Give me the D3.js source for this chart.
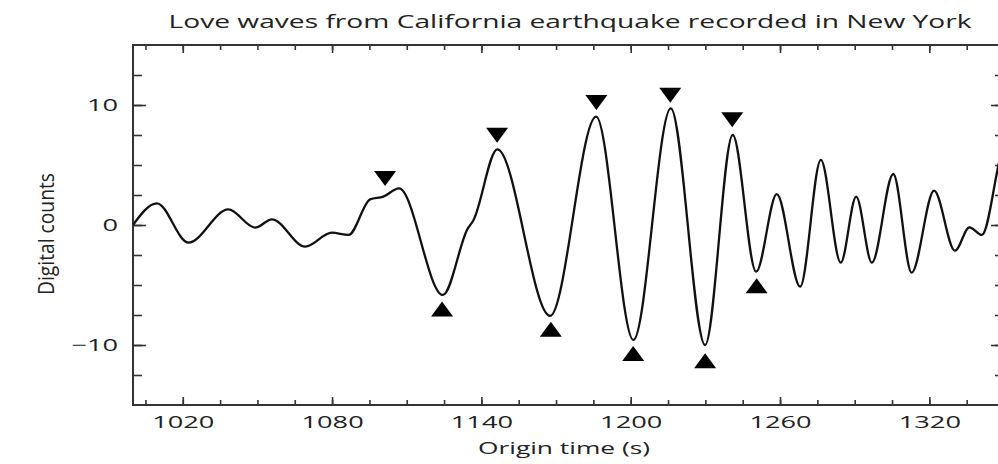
<!DOCTYPE html>
<html>
<head>
<meta charset="utf-8">
<script src="https://cdn.jsdelivr.net/npm/d3@7"></script>
<style>
    body { margin: 0; background: #fff; }
    text { font-family: "Open Sans", sans-serif; fill: #222; }
</style>
</head>
<body>
<svg id="chart" width="998" height="464"></svg>
<script>
// seismogram (time in s, digital counts)
var times = [1000, 1009.6, 1022.3, 1038.3, 1049.1, 1055.8, 1069.2, 1079.9, 1086.6, 1095.3,
    1100.6, 1106.9, 1124.5, 1134.5, 1136.8, 1146.4, 1167.6, 1186.1, 1201.1,
    1216.1, 1229.9, 1241.0, 1250.4, 1258.7, 1268.1, 1276.4, 1284.4, 1290.6, 1296.9,
    1305.5, 1312.9, 1321.9, 1330.3, 1336.1, 1341.1, 1348, 1350];
var counts = [0, 1.8, -1.47, 1.3, -0.22, 0.47, -1.8, -0.64, -0.83, 2.14,
    2.36, 3.05, -5.83, -0.3, 0.4, 6.3, -7.58, 9.03, -9.58,
    9.72, -10.0, 7.5, -3.89, 2.58, -5.14, 5.42, -3.14, 2.36, -3.14,
    4.25, -3.97, 2.86, -2.14, -0.19, -0.83, 5.2, 7];

// picked peaks (down triangles) and troughs (up triangles)
var peakTimes = [1101.3, 1146.3, 1186.2, 1215.9, 1240.8];
var peakValues = [2.67, 6.28, 9.0, 9.6, 7.56];
var troughTimes = [1124.2, 1167.9, 1201.0, 1229.9, 1250.6];
var troughValues = [-5.8, -7.47, -9.5, -10.1, -3.86];

var xMinorTicks = d3.range(1005, 1351, 15);
var xLabelTicks = [1020, 1080, 1140, 1200, 1260, 1320];
var yMinorTicks = [-12.5, -10, -7.5, -5, -2.5, 0, 2.5, 5, 7.5, 10, 12.5];
var yLabelTicks = [-10, 0, 10];

var SX = 1.6; // the source figure is stretched sideways

var svg = d3.select('#chart');
var pLeft = 133, pRight = 1004, pTop = 45, pBottom = 405;

var x = d3.scaleLinear().domain([1000, 1350]).range([pLeft, pRight]);
var y = d3.scaleLinear().domain([-15, 15]).range([pBottom, pTop]);

svg.append('defs').append('clipPath').attr('id', 'plot')
    .append('rect')
    .attr('x', pLeft).attr('y', pTop)
    .attr('width', pRight - pLeft).attr('height', pBottom - pTop);

// axes on all four sides, ticks pointing inward
function drawAxis(axis, tx, ty, labels) {
    var g = svg.append('g')
        .attr('transform', 'translate(' + tx + ',' + ty + ')')
        .call(axis);
    g.select('.domain').remove();
    g.selectAll('line').attr('stroke', '#333').attr('stroke-width', 1.6);
    if (!labels) g.selectAll('text').remove();
    return g;
}

var fmt = function (d) { return d < 0 ? '\u2212' + Math.abs(d) : String(d); };

drawAxis(d3.axisBottom(x).tickValues(xMinorTicks).tickSize(-5).tickFormat(''), 0, pBottom, false);
drawAxis(d3.axisTop(x).tickValues(xMinorTicks).tickSize(-5).tickFormat(''), 0, pTop, false);
drawAxis(d3.axisLeft(y).tickValues(yMinorTicks).tickSize(-9).tickFormat(''), pLeft, 0, false);
drawAxis(d3.axisRight(y).tickValues(yMinorTicks).tickSize(-9).tickFormat(''), pRight, 0, false);

var xb = drawAxis(d3.axisBottom(x).tickValues(xLabelTicks).tickSize(-8).tickPadding(11).tickFormat(fmt), 0, pBottom, true);
drawAxis(d3.axisTop(x).tickValues(xLabelTicks).tickSize(-8).tickFormat(''), 0, pTop, false);
var yl = drawAxis(d3.axisLeft(y).tickValues(yLabelTicks).tickSize(-13).tickPadding(15).tickFormat(fmt), pLeft, 0, true);
drawAxis(d3.axisRight(y).tickValues(yLabelTicks).tickSize(-13).tickFormat(''), pRight, 0, false);

[xb, yl].forEach(function (g) {
    g.selectAll('text')
        .attr('font-size', 17)
        .attr('font-family', '"Open Sans", sans-serif')
        .attr('fill', '#222')
        .each(function () {
            var w = this.getComputedTextLength();
            d3.select(this).attr('textLength', w * SX).attr('lengthAdjust', 'spacingAndGlyphs');
        });
});

// frame
svg.append('rect')
    .attr('x', pLeft).attr('y', pTop)
    .attr('width', pRight - pLeft).attr('height', pBottom - pTop)
    .attr('fill', 'none')
    .attr('stroke', '#333')
    .attr('stroke-width', 2);

// waveform
var line = d3.line()
    .x(function (d, i) { return x(times[i]); })
    .y(function (d) { return y(d); })
    .curve(d3.curveMonotoneX);

svg.append('path')
    .datum(counts)
    .attr('clip-path', 'url(#plot)')
    .attr('d', line)
    .attr('fill', 'none')
    .attr('stroke', '#111')
    .attr('stroke-width', 2.3);

// markers
function tri(cx, tip, dir) {
    // dir 1: pointing down, -1: pointing up
    var b = tip - dir * 15;
    return 'M' + (cx - 11) + ',' + b + 'L' + (cx + 11) + ',' + b + 'L' + cx + ',' + tip + 'Z';
}

svg.append('g').selectAll('path')
    .data(peakTimes)
    .enter().append('path')
    .attr('d', function (d, i) { return tri(x(d), y(peakValues[i]) - 7, 1); })
    .attr('fill', '#000');

svg.append('g').selectAll('path')
    .data(troughTimes)
    .enter().append('path')
    .attr('d', function (d, i) { return tri(x(d), y(troughValues[i]) + 7, -1); })
    .attr('fill', '#000');

// titles
svg.append('text')
    .attr('x', 570).attr('y', 28)
    .attr('text-anchor', 'middle')
    .attr('font-size', 18)
    .attr('textLength', 803)
    .attr('lengthAdjust', 'spacingAndGlyphs')
    .text('Love waves from California earthquake recorded in New York');

svg.append('text')
    .attr('x', 564).attr('y', 454)
    .attr('text-anchor', 'middle')
    .attr('font-size', 17)
    .attr('textLength', 172)
    .attr('lengthAdjust', 'spacingAndGlyphs')
    .text('Origin time (s)');

svg.append('text')
    .attr('transform', 'translate(54,234) scale(1.35,1) rotate(-90)')
    .attr('text-anchor', 'middle')
    .attr('font-size', 16)
    .attr('textLength', 122)
    .attr('lengthAdjust', 'spacingAndGlyphs')
    .text('Digital counts');
</script>
</body>
</html>
